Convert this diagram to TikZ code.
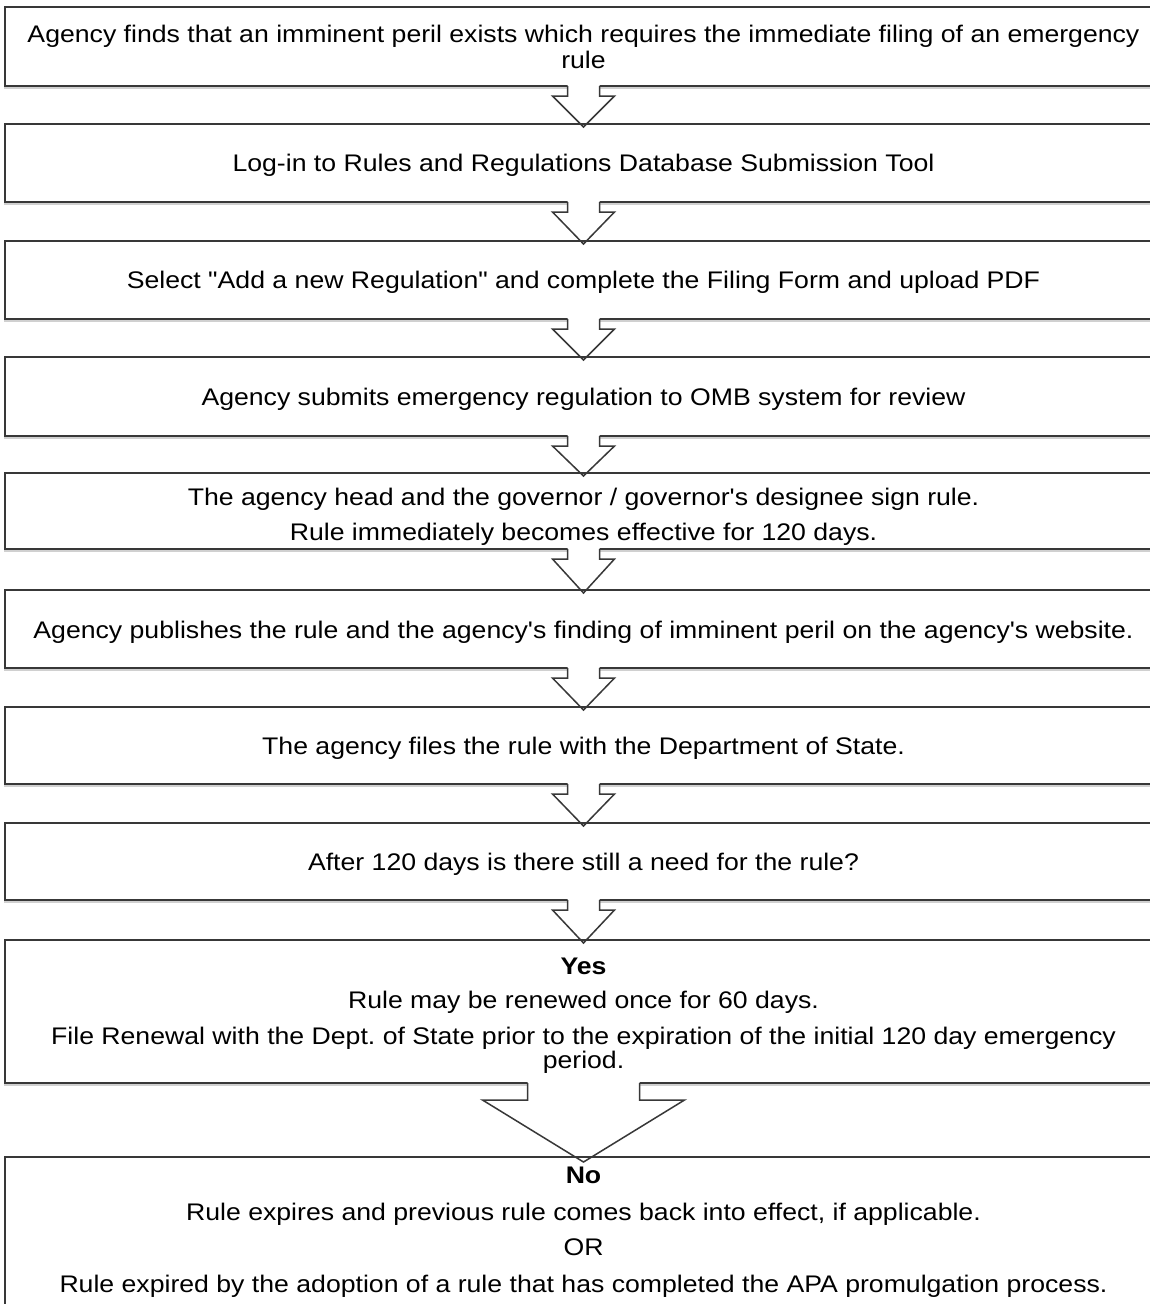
\documentclass[tikz,border=0pt]{standalone}
\usepackage{fontspec}
\setmainfont[FakeStretch=1.11,Ligatures=TeXOff]{Liberation Sans}
\usetikzlibrary{calc,shadows}
\frenchspacing
\newcommand{\blkarrow}[6]{%
  \fill[white] ($(#1.south)+(-#3,-1)$) -- ($(#1.south)+(-#3,#5)$) -- ($(#1.south)+(-#4,#5)$) -- ($(#2.north)+(0,#6)$) -- ($(#1.south)+(#4,#5)$) -- ($(#1.south)+(#3,#5)$) -- ($(#1.south)+(#3,-1)$) -- cycle;
  \draw[arrline] ($(#1.south)+(-#3,0)$) -- ($(#1.south)+(-#3,#5)$) -- ($(#1.south)+(-#4,#5)$) -- ($(#2.north)+(0,#6)$) -- ($(#1.south)+(#4,#5)$) -- ($(#1.south)+(#3,#5)$) -- ($(#1.south)+(#3,0)$);
  \draw[edgeline] (#2.north west) -- (#2.north east);
}
\begin{document}
\begin{tikzpicture}[x=1pt,y=-1pt,
  flowbox/.style={draw=black!78, line width=1.5pt, fill=white, rectangle, minimum width=1157pt,
    outer sep=0pt, inner sep=0pt,
    drop shadow={shadow xshift=-1.5pt, shadow yshift=-3pt, opacity=0.3, fill=black!60}},
  arrline/.style={draw=black!78, line width=1.5pt, line join=miter},
  edgeline/.style={draw=black!78, line width=1.5pt},
  txt/.style={anchor=base, inner sep=0pt, font=\fontsize{24}{28}\selectfont\frenchspacing, text=black},
]
\useasboundingbox (0,0) rectangle (1150,1304);
\clip (0,0) rectangle (1150,1304);
\fill[white] (0,0) rectangle (1150,1304);

\node[flowbox, minimum height=79pt] (b1) at (583.5,46.5) {};
\node[flowbox, minimum height=78pt] (b2) at (583.5,163) {};
\node[flowbox, minimum height=78pt] (b3) at (583.5,280) {};
\node[flowbox, minimum height=79pt] (b4) at (583.5,396.5) {};
\node[flowbox, minimum height=76pt] (b5) at (583.5,511) {};
\node[flowbox, minimum height=78pt] (b6) at (583.5,629) {};
\node[flowbox, minimum height=77pt] (b7) at (583.5,745.5) {};
\node[flowbox, minimum height=77pt] (b8) at (583.5,861.5) {};
\node[flowbox, minimum height=143pt] (b9) at (583.5,1011.5) {};
\node[flowbox, minimum height=166pt] (b10) at (583.5,1240) {};

\blkarrow{b1}{b2}{16}{31}{10}{3}
\blkarrow{b2}{b3}{16}{31}{10}{3}
\blkarrow{b3}{b4}{16}{31}{10}{3}
\blkarrow{b4}{b5}{16}{31}{10}{3}
\blkarrow{b5}{b6}{16}{31}{10}{3}
\blkarrow{b6}{b7}{16}{31}{10}{3}
\blkarrow{b7}{b8}{16}{31}{10}{3}
\blkarrow{b8}{b9}{16}{31}{10}{3}
\blkarrow{b9}{b10}{56}{101}{17}{5}

\node[txt] (t1a) at (583.5,42) {Agency finds that an imminent peril exists which requires the immediate filing of an emergency};
\node[txt] (t1b) at (583.5,68) {rule};
\node[txt] (t2) at (583.5,171) {Log-in to Rules and Regulations Database Submission Tool};
\node[txt] (t3) at (583.5,288) {Select "Add a new Regulation" and complete the Filing Form and upload PDF};
\node[txt] (t4) at (583.5,405) {Agency submits emergency regulation to OMB system for review};
\node[txt] (t5a) at (583.5,505) {The agency head and the governor / governor's designee sign rule.};
\node[txt] (t5b) at (583.5,540) {Rule immediately becomes effective for 120 days.};
\node[txt] (t6) at (583.5,638) {Agency publishes the rule and the agency's finding of imminent peril on the agency's website.};
\node[txt] (t7) at (583.5,754) {The agency files the rule with the Department of State.};
\node[txt] (t8) at (583.5,870) {After 120 days is there still a need for the rule?};
\node[txt, font=\fontsize{24}{28}\selectfont\bfseries] (t9a) at (583.5,974) {Yes};
\node[txt] (t9b) at (583.5,1008) {Rule may be renewed once for 60 days.};
\node[txt] (t9c) at (583.5,1044) {File Renewal with the Dept. of State prior to the expiration of the initial 120 day emergency};
\node[txt] (t9d) at (583.5,1068) {period.};
\node[txt, font=\fontsize{24}{28}\selectfont\bfseries] (t10a) at (583.5,1183) {No};
\node[txt] (t10b) at (583.5,1220) {Rule expires and previous rule comes back into effect, if applicable.};
\node[txt] (t10c) at (583.5,1255) {OR};
\node[txt] (t10d) at (583.5,1292) {Rule expired by the adoption of a rule that has completed the APA promulgation process.};
\end{tikzpicture}
\end{document}
